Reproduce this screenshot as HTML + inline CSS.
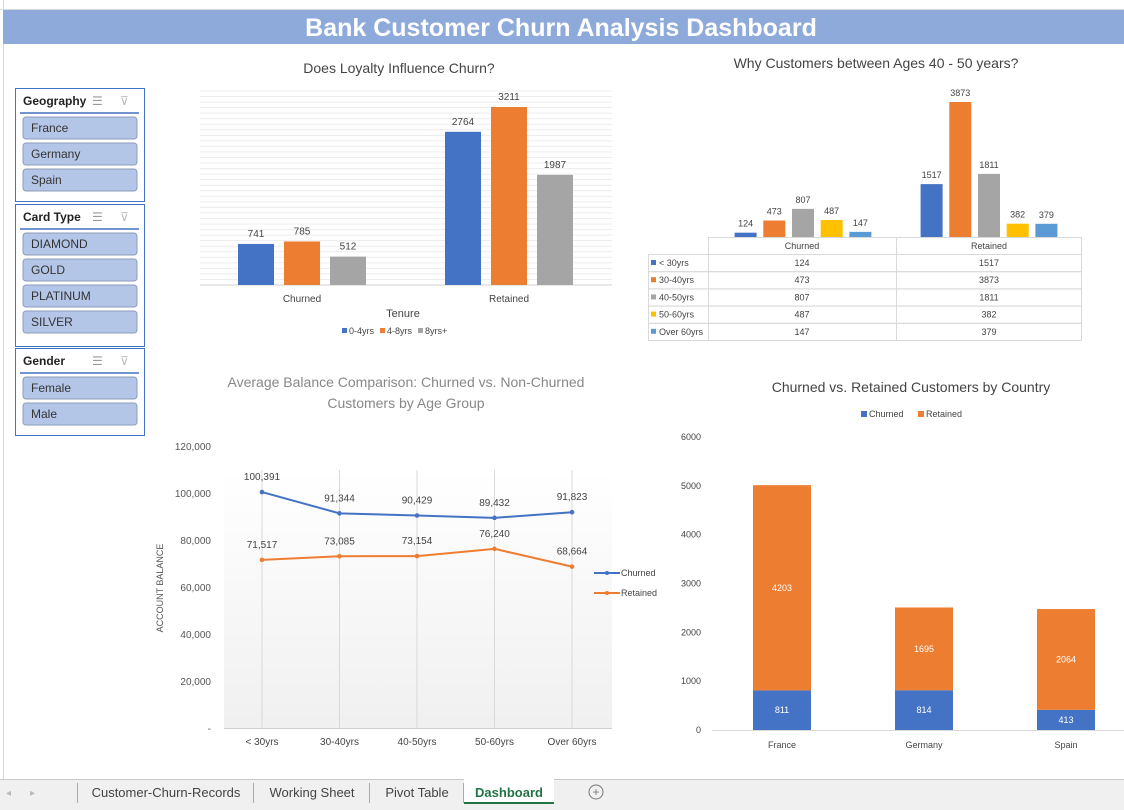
<!DOCTYPE html>
<html><head><meta charset="utf-8"><style>
body{margin:0;width:1124px;height:810px;overflow:hidden;background:#fff;font-family:"Liberation Sans",sans-serif}
svg{display:block}
text{font-family:"Liberation Sans",sans-serif}
</style></head><body>
<svg id="s" width="1124" height="810" viewBox="0 0 1124 810">
<g stroke="#d8d8d8" stroke-width="1">
<line x1="0" y1="9.5" x2="1124" y2="9.5"/><line x1="3.5" y1="0" x2="3.5" y2="780"/>
</g>
<rect x="3" y="10" width="1121" height="34" fill="#8EAADB"/>
<text x="561" y="36" text-anchor="middle" font-size="25" font-weight="bold" fill="#fff">Bank Customer Churn Analysis Dashboard</text>
<g id="slicers"></g>
<g id="c1"></g><g id="c2"></g><g id="c3"></g><g id="c4"></g>
<g id="tabs"></g>
</svg>
<script>
// Chart 1 data
const c1Cats=["Churned","Retained"];
const c1Series=["0-4yrs","4-8yrs","8yrs+"];
const c1Vals=[[741,2764],[785,3211],[512,1987]];
// Chart 2 data
const c2Cats=["Churned","Retained"];
const c2Series=["< 30yrs","30-40yrs","40-50yrs","50-60yrs","Over 60yrs"];
const c2Vals=[[124,1517],[473,3873],[807,1811],[487,382],[147,379]];
// Chart 3 data
const c3Cats=["< 30yrs","30-40yrs","40-50yrs","50-60yrs","Over 60yrs"];
const c3Churned=[100391,91344,90429,89432,91823];
const c3Retained=[71517,73085,73154,76240,68664];
const c3Ticks=[0,20000,40000,60000,80000,100000,120000];
// Chart 4 data
const c4Cats=["France","Germany","Spain"];
const c4Churned=[811,814,413];
const c4Retained=[4203,1695,2064];
const c4Ticks=[0,1000,2000,3000,4000,5000,6000];

const NS="http://www.w3.org/2000/svg";
function mk(p,tag,a,txt){const e=document.createElementNS(NS,tag);for(const k in a)e.setAttribute(k,a[k]);if(txt!==undefined)e.textContent=txt;p.appendChild(e);return e;}
const fmt=n=>n.toLocaleString("en-US");

// Slicers
const sl=document.getElementById("slicers");
const slicers=[["Geography",88,113,["France","Germany","Spain"]],["Card Type",204,142,["DIAMOND","GOLD","PLATINUM","SILVER"]],["Gender",348,87,["Female","Male"]]];
slicers.forEach(([t,y,h,items])=>{
 const g=mk(sl,"g",{});
 
 
 mk(g,"rect",{x:15.5,y:y+.5,width:129,height:h,fill:"#fff",stroke:"#4472C4"});
 const tt=mk(g,"text",{x:23,y:y+17,"font-size":12,"font-weight":"bold",fill:"#222"},t);
 
 
 const ic=mk(g,"text",{x:92,y:y+17,"font-size":12,fill:"#999"},"☰");
 
 
 const cl=mk(g,"text",{x:120,y:y+17,"font-size":12,fill:"#bbb"},"⊽");
 
 
 mk(g,"line",{x1:20,y1:y+25,x2:139,y2:y+25,stroke:"#4472C4","stroke-width":1.5});
 items.forEach((it,i)=>{
  const b=mk(g,"g",{});
  
  
  const by=y+29+i*26;
  mk(b,"rect",{x:23,y:by,width:114,height:22,rx:3,fill:"#B4C6E7",stroke:"#8c9bb8"});
  mk(b,"text",{x:31,y:by+15,"font-size":12,fill:"#333"},it);
 });
});

// Chart 1
(function(){
 const g=document.getElementById("c1");
 const base=285,k=178/3211,cols=["#4472C4","#ED7D31","#A5A5A5"];
 const t=mk(g,"text",{x:399,y:73,"text-anchor":"middle","font-size":14,fill:"#444"},"Does Loyalty Influence Churn?");
 
 for(let v=0;v<=3500;v+=100){mk(g,"line",{x1:200,x2:612,y1:base-v*k,y2:base-v*k,stroke:v?"#ececec":"#d0d0d0"});}
 const gc=[302,509];
 c1Cats.forEach((c,ci)=>{
  c1Series.forEach((s,si)=>{
   const v=c1Vals[si][ci],cx=gc[ci]+(si-1)*46,h=v*k;
   const r=mk(g,"rect",{x:cx-18,y:base-h,width:36,height:h,fill:cols[si]});
   
   mk(g,"text",{x:cx,y:base-h-7,"text-anchor":"middle","font-size":10,fill:"#444"},v);
  });
  mk(g,"text",{x:gc[ci],y:302,"text-anchor":"middle","font-size":10,fill:"#444"},c);
 });
 const at=mk(g,"text",{x:403,y:317,"text-anchor":"middle","font-size":11,fill:"#444"},"Tenure");
 
 c1Series.forEach((s,i)=>{const x=342+i*38;const le=mk(g,"g",{});
  
  mk(le,"rect",{x:x,y:328,width:5,height:5,fill:cols[i]});mk(le,"text",{x:x+7,y:334,"font-size":9,fill:"#444"},s);});
})();

// Chart 2
(function(){
 const g=document.getElementById("c2");
 const base=237,k=135/3873,cols=["#4472C4","#ED7D31","#A5A5A5","#FFC000","#5B9BD5"];
 const t=mk(g,"text",{x:876,y:68,"text-anchor":"middle","font-size":14,fill:"#444"},"Why Customers between Ages 40 - 50 years?");
 
 const gc=[803,989];
 c2Cats.forEach((c,ci)=>{c2Series.forEach((s,si)=>{
  const v=c2Vals[si][ci],cx=gc[ci]+(si-2)*28.7,h=v*k;
  const r=mk(g,"rect",{x:cx-11,y:base-h,width:22,height:h,fill:cols[si]});
  
  mk(g,"text",{x:cx,y:base-h-6,"text-anchor":"middle","font-size":9,fill:"#444"},v);
 });});
 const tb=mk(g,"g",{});
 const st={stroke:"#d9d9d9",fill:"none"};
 mk(tb,"rect",Object.assign({x:708.5,y:237.5,width:373,height:17},st));
 mk(tb,"line",Object.assign({x1:896.5,x2:896.5,y1:237,y2:340},st));
 mk(tb,"line",Object.assign({x1:708.5,x2:708.5,y1:237,y2:340},st));
 mk(tb,"text",{x:802,y:249,"text-anchor":"middle","font-size":9,fill:"#444"},"Churned");
 mk(tb,"text",{x:989,y:249,"text-anchor":"middle","font-size":9,fill:"#444"},"Retained");
 c2Series.forEach((s,i)=>{const y=254+i*17.2;
  mk(tb,"rect",Object.assign({x:648.5,y:y+.5,width:433,height:17.2},st));
  mk(tb,"rect",{x:651,y:y+6,width:5,height:5,fill:cols[i]});
  mk(tb,"text",{x:659,y:y+12,"font-size":9,fill:"#444"},s);
  mk(tb,"text",{x:802,y:y+12,"text-anchor":"middle","font-size":9,fill:"#444"},c2Vals[i][0]);
  mk(tb,"text",{x:989,y:y+12,"text-anchor":"middle","font-size":9,fill:"#444"},c2Vals[i][1]);
 });
})();

// Chart 3
(function(){
 const g=document.getElementById("c3");
 const y0=728,k=282/120000,xs=i=>262+i*77.5,Y=v=>y0-v*k;
 const defs=mk(g,"defs",{});const lg=mk(defs,"linearGradient",{id:"gr",x1:0,y1:0,x2:0,y2:1});
 mk(lg,"stop",{offset:0,"stop-color":"#fff"});mk(lg,"stop",{offset:1,"stop-color":"#f0f0f0"});
 mk(g,"rect",{x:224,y:470,width:388,height:258,fill:"url(#gr)"});
 const t1=mk(g,"text",{x:406,y:387,"text-anchor":"middle","font-size":14,fill:"#888"},"Average Balance Comparison: Churned vs. Non-Churned");
 
 mk(g,"text",{x:406,y:408,"text-anchor":"middle","font-size":14,fill:"#888"},"Customers by Age Group");
 c3Ticks.forEach(v=>mk(g,"text",{x:211,y:Y(v)+4,"text-anchor":"end","font-size":10,fill:"#555"},v?fmt(v):"-"));
 mk(g,"line",{x1:224,x2:612,y1:y0+.5,y2:y0+.5,stroke:"#d0d0d0"});
 c3Cats.forEach((c,i)=>{mk(g,"line",{x1:xs(i),x2:xs(i),y1:470,y2:y0,stroke:"#d9d9d9"});
  mk(g,"text",{x:xs(i),y:745,"text-anchor":"middle","font-size":10,fill:"#444"},c);});
 const yt=mk(g,"text",{x:0,y:0,transform:"translate(163,588) rotate(-90)","text-anchor":"middle","font-size":9,fill:"#555"},"ACCOUNT  BALANCE");
 
 [[c3Churned,"#4472C4","churned"],[c3Retained,"#ED7D31","retained"]].forEach(([d,col,n])=>{
  const l=mk(g,"polyline",{points:d.map((v,i)=>xs(i)+","+Y(v)).join(" "),fill:"none",stroke:col,"stroke-width":2});
  
  d.forEach((v,i)=>{mk(g,"circle",{cx:xs(i),cy:Y(v),r:2.3,fill:col});
   mk(g,"text",{x:xs(i),y:Y(v)-12,"text-anchor":"middle","font-size":10,fill:"#444"},fmt(v));});
 });
 [["Churned","#4472C4",573],["Retained","#ED7D31",593]].forEach(([s,c,y])=>{const le=mk(g,"g",{});
  
  mk(le,"line",{x1:594,x2:620,y1:y,y2:y,stroke:c,"stroke-width":2});mk(le,"circle",{cx:607,cy:y,r:2,fill:c});
  mk(le,"text",{x:621,y:y+3,"font-size":9,fill:"#444"},s);});
})();

// Chart 4
(function(){
 const g=document.getElementById("c4");
 const y0=730,k=293/6000,Y=v=>y0-v*k,cx=[782,924,1066];
 const t=mk(g,"text",{x:911,y:392,"text-anchor":"middle","font-size":14,fill:"#444"},"Churned vs. Retained Customers by Country");
 
 [["Churned","#4472C4",861],["Retained","#ED7D31",918]].forEach(([s,c,x])=>{const le=mk(g,"g",{});
  
  mk(le,"rect",{x:x,y:411,width:6,height:6,fill:c});mk(le,"text",{x:x+8,y:417,"font-size":9,fill:"#444"},s);});
 c4Ticks.forEach(v=>mk(g,"text",{x:701,y:Y(v)+3,"text-anchor":"end","font-size":9,fill:"#444"},v));
 mk(g,"line",{x1:712,x2:1124,y1:y0+.5,y2:y0+.5,stroke:"#d9d9d9"});
 c4Cats.forEach((c,i)=>{
  const hc=c4Churned[i]*k,hr=c4Retained[i]*k;
  const b1=mk(g,"rect",{x:cx[i]-29,y:y0-hc,width:58,height:hc,fill:"#4472C4"});
  
  const b2=mk(g,"rect",{x:cx[i]-29,y:y0-hc-hr,width:58,height:hr,fill:"#ED7D31"});
  
  mk(g,"text",{x:cx[i],y:y0-hc/2+3,"text-anchor":"middle","font-size":9,fill:"#fff"},c4Churned[i]);
  mk(g,"text",{x:cx[i],y:y0-hc-hr/2+3,"text-anchor":"middle","font-size":9,fill:"#fff"},c4Retained[i]);
  mk(g,"text",{x:cx[i],y:748,"text-anchor":"middle","font-size":9,fill:"#444"},c);
 });
})();

// Tabs
(function(){
 const g=document.getElementById("tabs");
 mk(g,"rect",{x:0,y:779,width:1124,height:31,fill:"#f0f0f0"});
 mk(g,"line",{x1:0,x2:1124,y1:779.5,y2:779.5,stroke:"#c8c8c8"});
 mk(g,"text",{x:6,y:796,"font-size":10,fill:"#bbb"},"◂");mk(g,"text",{x:30,y:796,"font-size":10,fill:"#bbb"},"▸");
 mk(g,"line",{x1:77.5,x2:77.5,y1:783,y2:803,stroke:"#aaa"});
 const tabs=[["Customer-Churn-Records",78,254],["Working Sheet",254,370],["Pivot Table",370,464],["Dashboard",464,554]];
 tabs.forEach(([n,a,b],i)=>{const tg=mk(g,"g",{});
  
  const act=i===3;
  if(act){mk(tg,"rect",{x:a,y:779,width:b-a,height:25,fill:"#fff"});mk(tg,"line",{x1:a,x2:b,y1:803,y2:803,stroke:"#217346","stroke-width":2});}
  else mk(tg,"line",{x1:b-.5,x2:b-.5,y1:783,y2:803,stroke:"#aaa"});
  mk(tg,"text",{x:(a+b)/2,y:797,"text-anchor":"middle","font-size":13,fill:act?"#217346":"#444","font-weight":act?"bold":"normal"},n);
 });
 const ad=mk(g,"g",{});
 mk(ad,"circle",{cx:596,cy:792,r:7,fill:"none",stroke:"#777"});
 mk(ad,"text",{x:596,y:796,"text-anchor":"middle","font-size":12,fill:"#777"},"+");
})();
</script>
</body></html>
